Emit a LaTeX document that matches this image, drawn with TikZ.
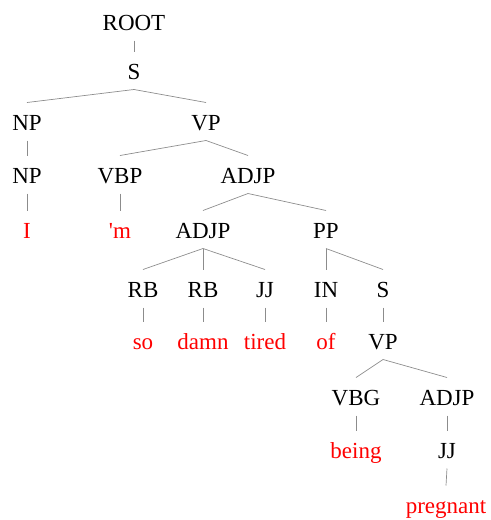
\documentclass[tikz,border=0pt]{standalone}
\usepackage{fontspec}
\setmainfont{Liberation Serif}
\usetikzlibrary{calc}
\begin{document}
\begin{tikzpicture}[x=1.3043pt,y=-1.3043pt,
  lab/.style={anchor=base,font=\fontsize{30}{36}\selectfont},
  word/.style={lab,text=red},
  edge/.style={draw=gray!90,line width=0.9pt}]
\useasboundingbox (0,0) rectangle (491,520);
\node[lab] (root) at (134,30) {ROOT};
\node[lab] (s1) at (134,79) {S};
\node[lab] (np1) at (27,130) {NP};
\node[lab] (vp1) at (206,130) {VP};
\node[lab] (np2) at (27,183) {NP};
\node[lab] (vbp) at (120,183) {VBP};
\node[lab] (adjp1) at (248,183) {ADJP};
\node[word] (i) at (27,238) {I};
\node[word] (m) at (120,238) {\textquotesingle m};
\node[lab] (adjp2) at (203,238) {ADJP};
\node[lab] (pp) at (326,238) {PP};
\node[lab] (rb1) at (143,297) {RB};
\node[lab] (rb2) at (203,297) {RB};
\node[lab] (jj1) at (265,297) {JJ};
\node[lab] (in) at (326,297) {IN};
\node[lab] (s2) at (383,297) {S};
\node[word] (so) at (143,349) {so};
\node[word] (damn) at (203,349) {damn};
\node[word] (tired) at (265,349) {tired};
\node[word] (of) at (326,349) {of};
\node[lab] (vp2) at (383,349) {VP};
\node[lab] (vbg) at (356,405) {VBG};
\node[lab] (adjp3) at (447,405) {ADJP};
\node[word] (being) at (356,458) {being};
\node[lab] (jj2) at (447,458) {JJ};
\node[word] (pregnant) at (446,513) {pregnant};
\foreach \a/\b in {root/s1,s1/np1,s1/vp1,np1/np2,vp1/vbp,vp1/adjp1,np2/i,vbp/m,
  adjp1/adjp2,adjp1/pp,adjp2/rb1,adjp2/rb2,adjp2/jj1,pp/in,pp/s2,rb1/so,rb2/damn,
  jj1/tired,in/of,s2/vp2,vp2/vbg,vp2/adjp3,vbg/being,adjp3/jj2,jj2/pregnant}
  \draw[edge] ($(\a.base)+(0,10.5)$) -- ($(\b.base)+(0,-27.5)$);
\end{tikzpicture}
\end{document}
